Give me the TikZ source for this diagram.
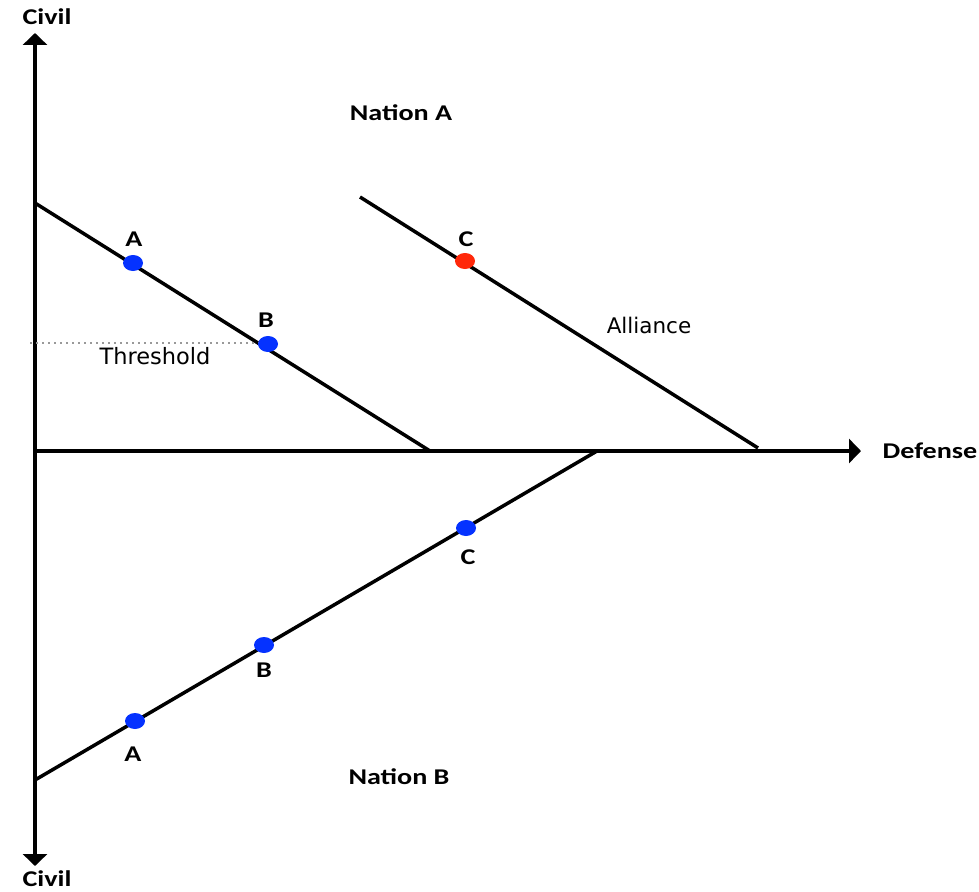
\documentclass[tikz,border=0pt]{standalone}
\usepackage{fontspec}
\usetikzlibrary{arrows.meta}
\newfontfamily\calfont[FakeStretch=1.25]{Carlito}
\newfontfamily\verfont{DejaVu Sans}
\definecolor{dotblue}{RGB}{5,50,255}
\definecolor{dotred}{RGB}{255,40,10}
\tikzset{
	axis/.style={line width=3.8pt,-{Triangle[length=12pt,width=24pt]}},
	seg/.style={line width=3.5pt},
	lab/.style={font=\calfont\bfseries\fontsize{22.5}{24}\selectfont},
	thin lab/.style={font=\verfont\fontsize{21.5}{24}\selectfont},
	pt/.style={ellipse,inner sep=0pt,minimum width=20pt,minimum height=16pt,fill=#1},
}
\usetikzlibrary{shapes.geometric}
\begin{document}
\begin{tikzpicture}[x=1pt,y=-1pt]
		\useasboundingbox (0,0) rectangle (979,891);
		%Ejes
		\coordinate (o) at (35,451);
		\coordinate (top) at (35,33);
		\coordinate (bot) at (35,866);
		\coordinate (right) at (861,451);
		\draw[axis] (o) -- (top);
		\draw[axis] (o) -- (bot);
		\draw[axis] (o) -- (right);
		\node[lab] (civtop) at (47,17) {Civil};
		\node[lab] (civbot) at (47,879) {Civil};
		\node[lab] (def) at (930,451) {Defense};
		%Rectas
		\coordinate (a1) at (35,203);
		\coordinate (a2) at (430,451);
		\coordinate (c1) at (360,197);
		\coordinate (c2) at (758,448);
		\coordinate (b1) at (35,780);
		\coordinate (b2) at (597,451);
		\draw[seg] (a1) -- (a2);
		\draw[seg] (c1) -- (c2);
		\draw[seg] (b1) -- (b2);
		%Umbral
		\coordinate (th) at (30,343);
		\draw[line width=1.5pt,gray!80,dash pattern=on 1.5pt off 4.5pt] (th) -- (262,343);
		\node[thin lab,font=\verfont\fontsize{22.5}{24}\selectfont] (thr) at (155,356) {Threshold};
		\node[thin lab] (all) at (649,325) {Alliance};
		%Puntos
		\node[pt=dotblue] (pa) at (133,263) {};
		\node[pt=dotblue] (pb) at (268,344) {};
		\node[pt=dotred] (pc) at (465,261) {};
		\node[pt=dotblue] (qa) at (135,721) {};
		\node[pt=dotblue] (qb) at (264,645) {};
		\node[pt=dotblue] (qc) at (466,528) {};
		\node[lab] (la) at (134,239) {A};
		\node[lab] (lb) at (266,320) {B};
		\node[lab] (lc) at (466,239) {C};
		\node[lab] (ma) at (133,754) {A};
		\node[lab] (mb) at (264,670) {B};
		\node[lab] (mc) at (468,557) {C};
		%Naciones
		\node[lab] (na) at (401,113) {Nation A};
		\node[lab] (nb) at (399,777) {Nation B};
	\end{tikzpicture}
\end{document}
